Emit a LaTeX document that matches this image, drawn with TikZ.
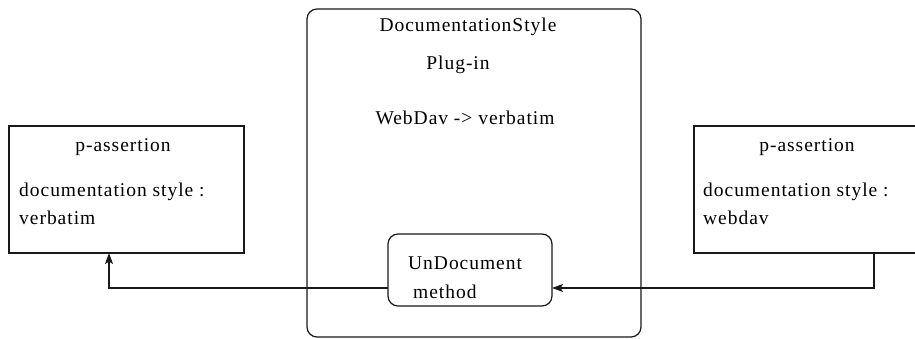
\documentclass[tikz,border=0pt]{standalone}
\usepackage{fontspec}
\setmainfont[LetterSpace=5]{Liberation Serif}
\usetikzlibrary{arrows.meta,calc}
\begin{document}
\begin{tikzpicture}[x=1pt,y=1pt,
  frame/.style={draw=black!90,line width=1.2pt,inner sep=0pt,outer sep=0pt},
  label/.style={inner sep=0pt,font=\fontsize{19.5}{22}\selectfont},
  link/.style={draw=black!90,line width=1.2pt},
  arr/.style={link,-{Stealth[length=11pt,width=8pt,inset=2.5pt]}}]
\clip (0,0) rectangle (915,339);
\fill[white] (0,0) rectangle (915,339);

% plug-in container and its method box
\node[frame,rounded corners=10pt,minimum width=334pt,minimum height=328pt] (plug) at (474,166) {};
\node[frame,rounded corners=10pt,minimum width=164pt,minimum height=72pt] (undoc) at (470,69) {};

% the two p-assertion boxes
\node[frame,minimum width=235pt,minimum height=127pt] (lbox) at (126.5,149.5) {};
\node[frame,minimum width=241pt,minimum height=127pt] (rbox) at (814.5,149.5) {};

% texts of the plug-in
\node[label] (pname) at (468,312) {DocumentationStyle};
\node[label] (pkind) at (458,274) {Plug-in};
\node[label] (pmap) at (465,221) {WebDav -{}> verbatim};
\node[label,anchor=west] (uname) at (408,76) {UnDocument};
\node[label,anchor=west] (ukind) at (413,47) {method};

% texts of the left p-assertion
\node[label] (ltitle) at (123,192) {p-assertion};
\node[label,anchor=west] (lkey) at (19,147) {documentation style :};
\node[label,anchor=west] (lval) at (19,121) {verbatim};

% texts of the right p-assertion
\node[label] (rtitle) at (807,192) {p-assertion};
\node[label,anchor=west] (rkey) at (703,147) {documentation style :};
\node[label,anchor=west] (rval) at (703,121) {webdav};

% connectors
\coordinate (lin) at ($(undoc.center)+(0,-18)$);
\coordinate (lfoot) at ($(lbox.south west)+(100,0)$);
\coordinate (rfoot) at ($(rbox.south west)+(180,0)$);
\draw[arr] (undoc.west |- lin) -| (lfoot);
\draw[arr] (rfoot) |- (undoc.east |- lin);
\end{tikzpicture}
\end{document}
